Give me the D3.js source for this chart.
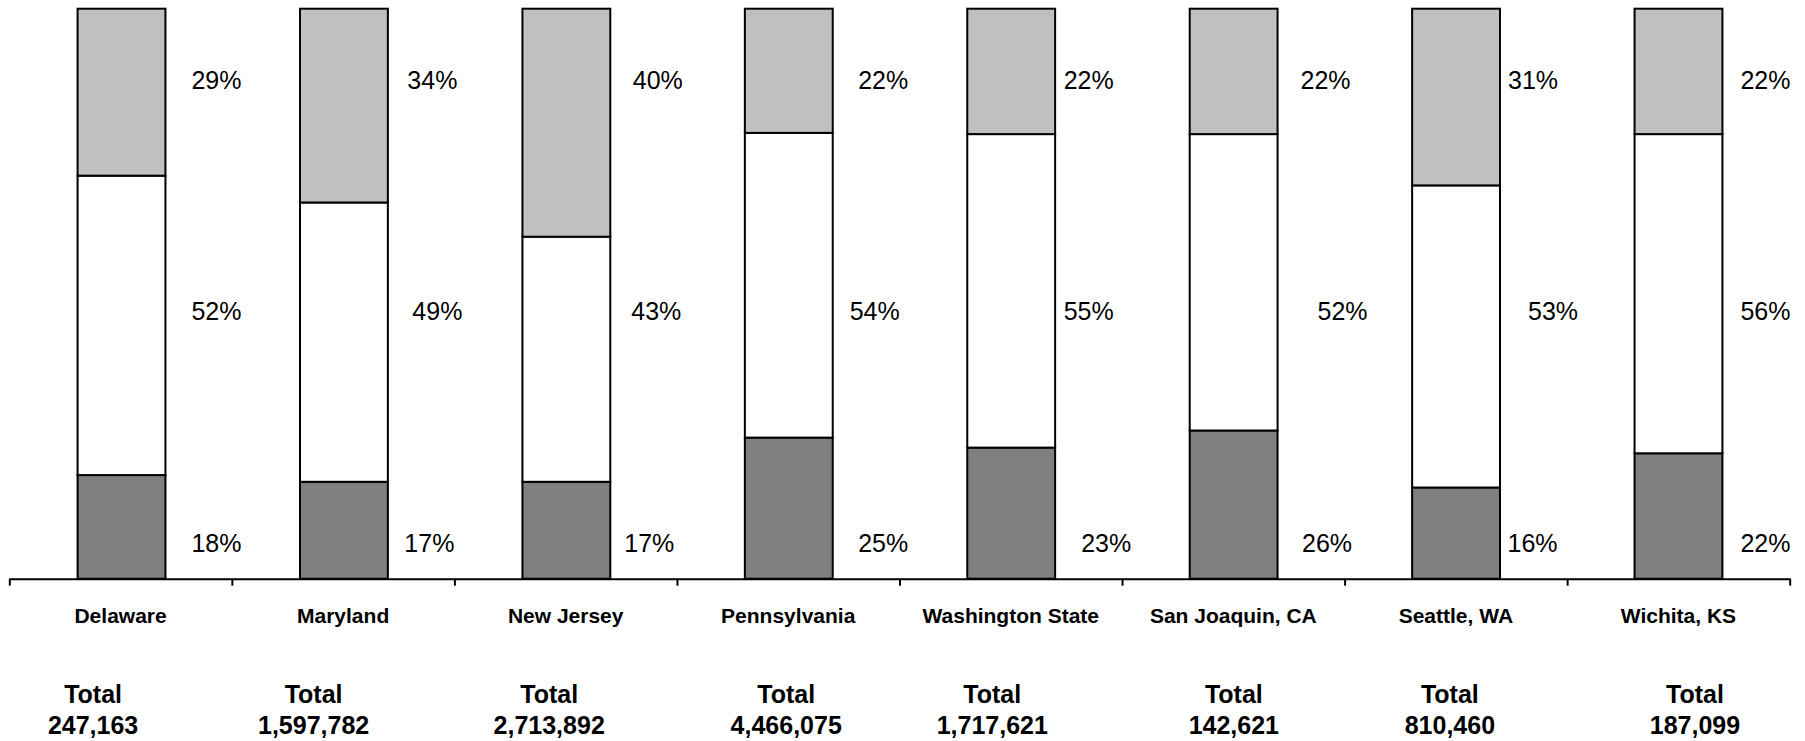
<!DOCTYPE html>
<html>
<head>
<meta charset="utf-8">
<script src="https://cdn.jsdelivr.net/npm/d3@7"></script>
<style>
  html, body { margin: 0; padding: 0; background: #fff; }
  svg { display: block; font-family: Arial, "Liberation Sans", sans-serif; }
</style>
</head>
<body>
<svg id="chart" width="1805" height="741"></svg>
<script>
// Regions compared
const categories = ["Delaware", "Maryland", "New Jersey", "Pennsylvania",
  "Washington State", "San Joaquin, CA", "Seattle, WA", "Wichita, KS"];

// Share of each region's total, bottom segment to top segment (percent)
const lowerShare  = [18, 17, 17, 25, 23, 26, 16, 22];
const middleShare = [52, 49, 43, 54, 55, 52, 53, 56];
const upperShare  = [29, 34, 40, 22, 22, 22, 31, 22];

// Totals printed under each region
const totals = [247163, 1597782, 2713892, 4466075, 1717621, 142621, 810460, 187099];

// ---- layout ----
const plotLeft = 9.3, plotRight = 1789.7, plotTop = 8.7, plotBottom = 578.7;
// horizontal nudges of the percent labels, measured from each bar's right edge
const labelNudge = {
  lower:  [26, 16.5, 14, 25.5, 26, 24.5, 7.5, 18],
  middle: [26, 24.5, 21, 17, 8.5, 40, 28, 18],
  upper:  [26, 19.5, 22.5, 25.5, 8.5, 23, 8, 18]
};
// fixed baselines for the three rows of percent labels
const labelRowY = { lower: 551.7, middle: 320, upper: 89.3 };
// horizontal shift of the "Total" blocks from each band centre
const totalShift = [-27.5, -29.5, -16.5, -2, -18.5, 0.5, -6, 16.5];

const keys = ["lower", "middle", "upper"];
const fills = { lower: "#808080", middle: "#ffffff", upper: "#c0c0c0" };

const rows = categories.map((c, i) => ({
  category: c,
  lower: lowerShare[i],
  middle: middleShare[i],
  upper: upperShare[i],
  total: totals[i]
}));

const series = d3.stack().keys(keys).offset(d3.stackOffsetExpand)(rows);

const svg = d3.select("#chart");

// band for each region (axis ticks sit on the band edges)
const band = d3.scaleBand().domain(categories).range([plotLeft, plotRight]).padding(0);
// narrower bars inside each band
const xBar = d3.scaleBand().domain(categories).range([plotLeft + 1, plotRight])
  .paddingInner(0.605).paddingOuter(0.3025);
const y = d3.scaleLinear().domain([0, 1]).range([plotBottom, plotTop]);

// stacked bars
svg.append("g").selectAll("g")
  .data(series)
  .join("g")
    .attr("fill", d => fills[d.key])
  .selectAll("rect")
  .data(d => d)
  .join("rect")
    .attr("x", d => xBar(d.data.category))
    .attr("width", xBar.bandwidth())
    .attr("y", d => y(d[1]))
    .attr("height", d => y(d[0]) - y(d[1]))
    .attr("stroke", "#000")
    .attr("stroke-width", 2);

// percent labels
const labels = svg.append("g").attr("font-size", 25).attr("fill", "#000");
keys.forEach(k => {
  labels.selectAll(null)
    .data(rows)
    .join("text")
      .attr("x", (d, i) => xBar(d.category) + xBar.bandwidth() + labelNudge[k][i])
      .attr("y", labelRowY[k])
      .text(d => d[k] + "%");
});

// category axis: baseline with ticks on band edges
const tickScale = d3.scaleLinear().domain([0, categories.length]).range([plotLeft, plotRight]);
const axis = svg.append("g")
  .attr("transform", `translate(0,${plotBottom})`)
  .call(d3.axisBottom(tickScale)
    .tickValues(d3.range(categories.length + 1))
    .tickSize(7)
    .tickSizeOuter(0)
    .tickFormat(""));
axis.select(".domain").attr("stroke", "#000").attr("stroke-width", 2);
axis.selectAll(".tick line").attr("stroke", "#000").attr("stroke-width", 2);

// category names
svg.append("g")
  .attr("font-size", 21).attr("font-weight", "bold").attr("text-anchor", "middle")
  .selectAll("text")
  .data(categories)
  .join("text")
    .attr("x", d => band(d) + band.bandwidth() / 2)
    .attr("y", 622.7)
    .text(d => d);

// totals
const fmt = d3.format(",");
const totalG = svg.append("g")
  .attr("font-size", 25).attr("font-weight", "bold").attr("text-anchor", "middle");
totalG.selectAll(".ttl")
  .data(rows)
  .join("text")
    .attr("class", "ttl")
    .attr("x", (d, i) => band(d.category) + band.bandwidth() / 2 + totalShift[i])
    .attr("y", 702.7)
    .text("Total");
totalG.selectAll(".num")
  .data(rows)
  .join("text")
    .attr("class", "num")
    .attr("x", (d, i) => band(d.category) + band.bandwidth() / 2 + totalShift[i])
    .attr("y", 734.3)
    .text(d => fmt(d.total));
</script>
</body>
</html>
